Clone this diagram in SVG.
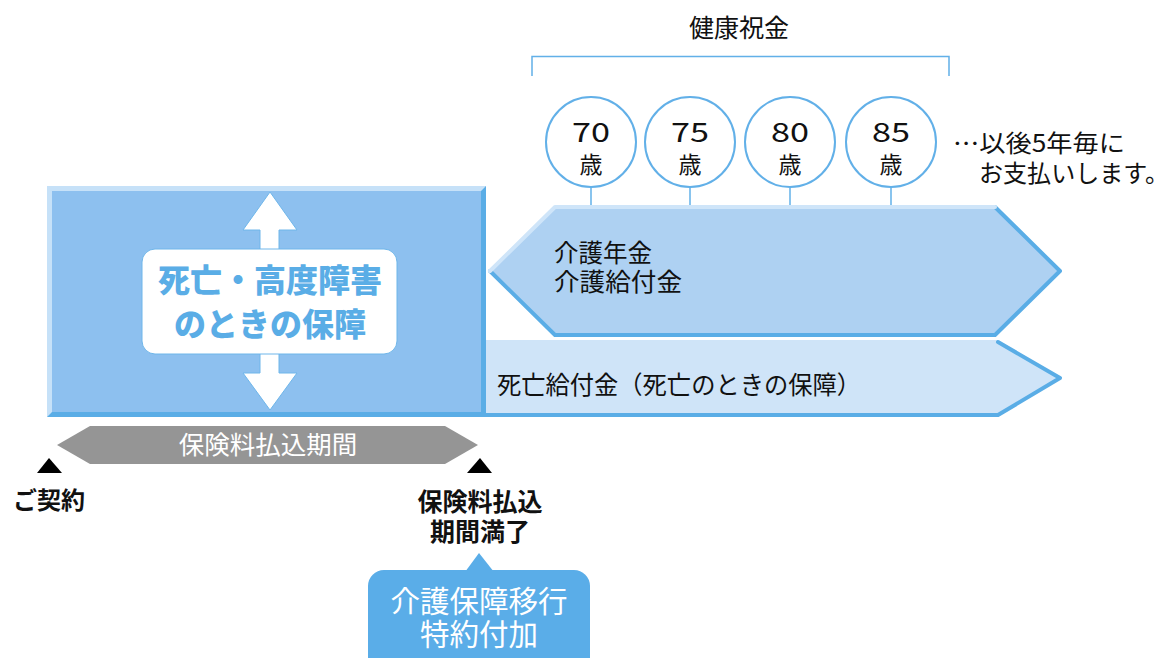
<svg xmlns="http://www.w3.org/2000/svg" width="1176" height="658" viewBox="0 0 1176 658">
<style>
text{font-family:"Noto Sans CJK JP","Noto Sans",sans-serif;}
.dark{fill:#111;}
.b{font-weight:bold;}
.circ{fill:#fff;stroke:#62b0e8;stroke-width:2;}
.conn{stroke:#62b0e8;stroke-width:1.5;fill:none;}
.edgeD{stroke:#5aade6;stroke-width:4;fill:none;stroke-linejoin:round;stroke-linecap:round;}
.edgeL{stroke:#cfe5f9;stroke-width:4;fill:none;stroke-linejoin:round;stroke-linecap:round;}
.num{font-size:27px;text-anchor:middle;fill:#111;}
.sai{font-size:23px;text-anchor:middle;fill:#111;}
</style>
<rect width="1176" height="658" fill="#fff"/>

<g id="connectors">
  <path class="conn" d="M532,76 V56.5 H949 V76"/>
  <line class="conn" x1="591" y1="188" x2="591" y2="206"/>
  <line class="conn" x1="690" y1="188" x2="690" y2="206"/>
  <line class="conn" x1="790" y1="188" x2="790" y2="206"/>
  <line class="conn" x1="891" y1="188" x2="891" y2="206"/>
</g>

<g id="kenko-label">
  <text x="739" y="37" font-size="25" text-anchor="middle" class="dark">健康祝金</text>
</g>

<g id="age70"><circle class="circ" cx="591" cy="142" r="45"/>
  <text x="591" y="142" class="num" textLength="38" lengthAdjust="spacingAndGlyphs">70</text>
  <text x="591" y="173" class="sai">歳</text></g>
<g id="age75"><circle class="circ" cx="690" cy="142" r="45"/>
  <text x="690" y="142" class="num" textLength="38" lengthAdjust="spacingAndGlyphs">75</text>
  <text x="690" y="173" class="sai">歳</text></g>
<g id="age80"><circle class="circ" cx="790" cy="142" r="45"/>
  <text x="790" y="142" class="num" textLength="38" lengthAdjust="spacingAndGlyphs">80</text>
  <text x="790" y="173" class="sai">歳</text></g>
<g id="age85"><circle class="circ" cx="891" cy="142" r="45"/>
  <text x="891" y="142" class="num" textLength="38" lengthAdjust="spacingAndGlyphs">85</text>
  <text x="891" y="173" class="sai">歳</text></g>

<g id="note">
  <text x="953" y="152" font-size="24" class="dark" textLength="172" lengthAdjust="spacingAndGlyphs">…以後5年毎に</text>
  <text x="979" y="182" font-size="24" class="dark" textLength="190" lengthAdjust="spacingAndGlyphs">お支払いします。</text>
</g>

<g id="death-box">
  <rect x="47" y="186" width="439" height="231" fill="#c6e1f8"/>
  <polygon points="486,186 486,417 47,417 52,412 481,412 481,191" fill="#5aade6"/>
  <rect x="52" y="191" width="429" height="221" fill="#8dc0ef"/>
  <polygon points="270,192 297,230 279,230 279,373 297,373 270,410 243,373 260,373 260,230 243,230" fill="#fff" stroke="#6fb6ea" stroke-width="1"/>
  <rect x="142" y="249" width="255" height="105" rx="13" fill="#fff" stroke="#6fb6ea" stroke-width="1"/>
  <text x="270" y="292" font-size="32" text-anchor="middle" font-weight="900" fill="#5aade6">死亡・高度障害</text>
  <text x="270" y="336" font-size="32" text-anchor="middle" font-weight="900" fill="#5aade6">のときの保障</text>
</g>

<g id="kaigo">
  <polygon points="490,271 555,207 995,207 1060,271 995,335 555,335" fill="#aed1f2"/>
  <polyline class="edgeD" points="995,207 1060,271 995,335 555,335 490,271"/>
  <polyline class="edgeL" points="490,271 555,207 995,207"/>
  <text x="554" y="262" font-size="24.5" class="dark">介護年金</text>
  <text x="554" y="291" font-size="24.5" class="dark" textLength="128" lengthAdjust="spacingAndGlyphs">介護給付金</text>
</g>

<g id="death-benefit">
  <polygon points="486,340 998,340 1060,378 998,416 486,416" fill="#cfe4f8"/>
  <polyline class="edgeD" points="998,342 1060,378 998,415 486,415"/>
  <text x="497" y="394" font-size="25" class="dark" textLength="364" lengthAdjust="spacingAndGlyphs">死亡給付金（死亡のときの保障）</text>
</g>

<g id="payment-period">
  <polygon points="57,445 90,426 445,426 478,445 445,464 90,464" fill="#959595"/>
  <text x="268" y="454" font-size="25.5" text-anchor="middle" fill="#fff">保険料払込期間</text>
</g>

<g id="contract">
  <polygon points="49,458 62,473 37,473" fill="#000"/>
  <text x="13" y="509" font-size="24" class="dark b">ご契約</text>
</g>

<g id="payment-end">
  <polygon points="480,458 492,473 467,473" fill="#000"/>
  <text x="480" y="511" font-size="25" text-anchor="middle" class="dark b">保険料払込</text>
  <text x="480" y="541" font-size="25" text-anchor="middle" class="dark b">期間満了</text>
</g>

<g id="rider">
  <polygon points="465,572 479,553 494,572" fill="#5aade8"/>
  <rect x="368" y="570" width="222" height="110" rx="16" fill="#5aade8"/>
  <text x="479" y="612" font-size="29.5" text-anchor="middle" fill="#fff">介護保障移行</text>
  <text x="479" y="645" font-size="29.5" text-anchor="middle" fill="#fff">特約付加</text>
</g>
</svg>
